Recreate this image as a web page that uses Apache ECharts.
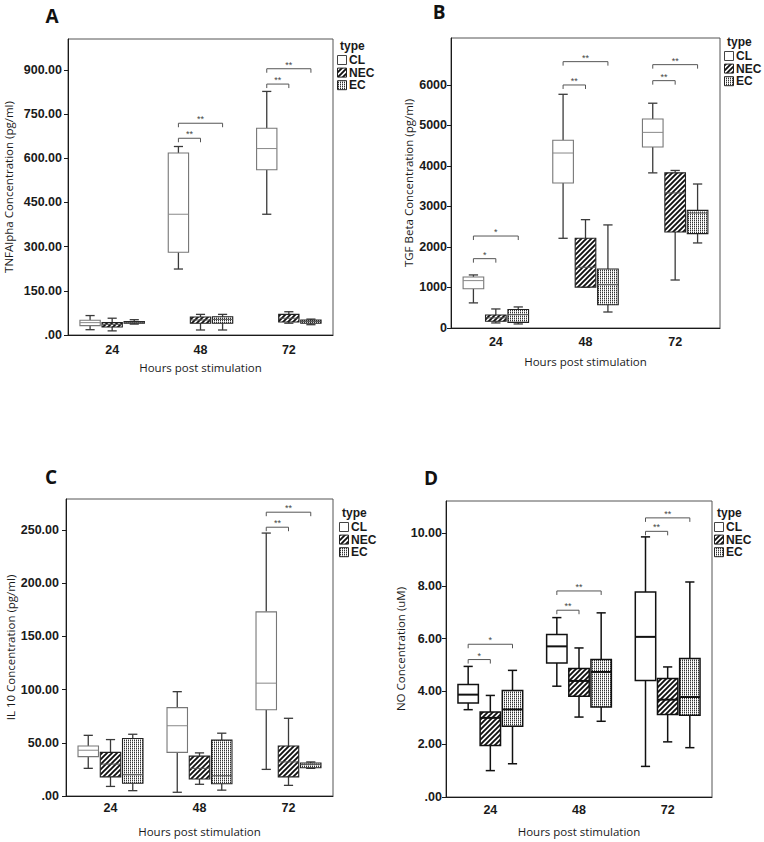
<!DOCTYPE html>
<html>
<head>
<meta charset="UTF-8">
<title>Cytokine boxplots</title>
<script src="https://cdn.jsdelivr.net/npm/echarts@6.0.0/dist/echarts.min.js"></script>
<style>
  html, body { margin: 0; padding: 0; background: #fff; }
  #main { width: 764px; height: 842px; }
</style>
</head>
<body>
<div id="main"></div>
<script>
  // categories
  const hours = ['24', '48', '72'];
  const groups = ['CL', 'NEC', 'EC'];

  // box values per hour: [min, Q1, median, Q3, max]
  const tnfCL  = [[18, 32, 42, 50, 66], [224, 281, 410, 618, 640], [410, 561, 633, 702, 827]];
  const tnfNEC = [[14, 27, 36, 42, 57], [17, 40, 51, 61, 70], [40, 44, 57, 70, 79]];
  const tnfEC  = [[37, 40, 43, 46, 52], [17, 40, 53, 62, 70], [35, 40, 46, 51, 54]];

  const tgfCL  = [[620, 970, 1170, 1260, 1310], [2215, 3580, 4320, 4635, 5770], [3830, 4470, 4830, 5160, 5550]];
  const tgfNEC = [[125, 165, 250, 320, 470], [1010, 1010, 1500, 2215, 2675], [1185, 2370, 3335, 3830, 3890]];
  const tgfEC  = [[100, 140, 330, 455, 520], [395, 575, 1070, 1455, 2545], [2100, 2330, 2840, 2905, 3555]];

  const il10CL  = [[26, 37, 43, 47, 57], [3.5, 41, 66, 83, 98], [25, 81, 106, 173, 247]];
  const il10NEC = [[9, 18, 30, 41, 53], [11, 16, 26, 37.5, 40.5], [10, 18, 32, 47, 73]];
  const il10EC  = [[5, 12, 20, 54, 58], [5.5, 11.5, 19, 52.5, 59], [26, 26.5, 29.5, 31, 32]];

  const noCL  = [[3.31, 3.56, 3.88, 4.26, 4.95], [4.2, 5.08, 5.71, 6.16, 6.8], [1.16, 4.42, 6.07, 7.77, 9.86]];
  const noNEC = [[1.0, 1.95, 3.0, 3.22, 3.85], [3.03, 3.82, 4.4, 4.87, 5.65], [2.09, 3.13, 3.69, 4.49, 4.93]];
  const noEC  = [[1.26, 2.68, 3.32, 4.04, 4.8], [2.87, 3.41, 4.74, 5.21, 6.98], [1.87, 3.1, 3.79, 5.25, 8.15]];

  // significance brackets: [hour index, compared group index, y value, label]
  const tnfSig  = [[1, 1, 668, '**'], [1, 2, 719, '**'], [2, 1, 852, '**'], [2, 2, 904, '**']];
  const tgfSig  = [[0, 1, 1712, '*'], [0, 2, 2271, '*'], [1, 1, 6000, '**'], [1, 2, 6576, '**'], [2, 1, 6107, '**'], [2, 2, 6502, '**']];
  const il10Sig = [[2, 1, 252.5, '**'], [2, 2, 266.6, '**']];
  const noSig   = [[0, 1, 5.21, '*'], [0, 2, 5.79, '*'], [1, 1, 7.08, '**'], [1, 2, 7.81, '**'], [2, 1, 10.07, '**'], [2, 2, 10.58, '**']];

  // tick labels
  const tnfTicks  = [0, 150, 300, 450, 600, 750, 900];
  const tgfTicks  = [0, 1000, 2000, 3000, 4000, 5000, 6000];
  const il10Ticks = [0, 50, 100, 150, 200, 250];
  const noTicks   = [0, 2, 4, 6, 8, 10];

  const OFFSETS = [-0.25, 0, 0.25]   // box centre, fraction of band
  const BOX_W = 0.23
  const CAP_W = 0.45

  // 斜线填充
  function hatchFill() {
    const s = 5
    const c = document.createElement('canvas')
    c.width = s; c.height = s
    const ctx = c.getContext('2d')
    ctx.fillStyle = '#fff'
    ctx.fillRect(0, 0, s, s)
    ctx.strokeStyle = '#111'
    ctx.lineWidth = 1.9
    ctx.beginPath()
    ctx.moveTo(-1, s + 1); ctx.lineTo(s + 1, -1)
    ctx.moveTo(-1, 1); ctx.lineTo(1, -1)
    ctx.moveTo(s - 1, s + 1); ctx.lineTo(s + 1, s - 1)
    ctx.stroke()
    return { image: c.toDataURL(), imageWidth: s, imageHeight: s, repeat: 'repeat' }
  }

  // 点状填充
  function dotFill() {
    const c = document.createElement('canvas')
    c.width = 2; c.height = 2
    const ctx = c.getContext('2d')
    ctx.fillStyle = '#fff'
    ctx.fillRect(0, 0, 2, 2)
    ctx.fillStyle = '#333'
    ctx.fillRect(0, 0, 1, 1)
    ctx.fillStyle = '#aaa'
    ctx.fillRect(0, 1, 1, 1)
    return { image: c.toDataURL(), imageWidth: 2, imageHeight: 2, repeat: 'repeat' }
  }

  const fills = ['#fff', hatchFill(), dotFill()]

  const fmt2 = v => v === 0 ? '.00' : v.toFixed(2)

  const panels = [
    { tag: 'A', name: 'TNFAlpha Concentration (pg/ml)', data: [tnfCL, tnfNEC, tnfEC], sig: tnfSig,
      ticks: tnfTicks, max: 1005, fmt: fmt2,
      grid: { left: 68, top: 39, width: 265, height: 296 }, nameGap: 54, xNameGap: 26, yMargin: 6, xMargin: 8,
      title: [52, 16], legend: [340, 46], dark: false },
    { tag: 'B', name: 'TGF Beta Concentration (pg/ml)', data: [tgfCL, tgfNEC, tgfEC], sig: tgfSig,
      ticks: tgfTicks, max: 7160, fmt: v => String(v),
      grid: { left: 451, top: 38, width: 269, height: 290 }, nameGap: 37, xNameGap: 27, yMargin: 4, xMargin: 7,
      title: [439, 12], legend: [727, 42], dark: false },
    { tag: 'C', name: 'IL 10 Concentration (pg/ml)', data: [il10CL, il10NEC, il10EC], sig: il10Sig,
      ticks: il10Ticks, max: 279, fmt: fmt2,
      grid: { left: 66, top: 499, width: 267, height: 297 }, nameGap: 48, xNameGap: 29, yMargin: 7, xMargin: 5,
      title: [51, 477], legend: [342, 513], dark: false },
    { tag: 'D', name: 'NO Concentration (uM)', data: [noCL, noNEC, noEC], sig: noSig,
      ticks: noTicks, max: 11.22, fmt: fmt2,
      grid: { left: 446, top: 501, width: 266, height: 296 }, nameGap: 37, xNameGap: 28, yMargin: 4, xMargin: 6,
      title: [431, 478], legend: [717, 513], dark: true }
  ]

  const tickFont = { fontFamily: 'Liberation Sans', fontWeight: 'bold', fontSize: 12.5, color: '#1a1a1a' }
  const nameFont = { fontFamily: 'Open Sans', fontSize: 11.5, color: '#1a1a1a' }

  function boxRenderer(p, g) {
    return function (params, api) {
      const h = api.value(0)
      const band = api.size([1, 0])[0]
      const cx = api.coord([h, 0])[0] + band * OFFSETS[g]
      const w = band * BOX_W
      const cap = w * CAP_W
      const yv = i => api.coord([h, api.value(i)])[1]
      const yMin = yv(1), yQ1 = yv(2), yMed = yv(3), yQ3 = yv(4), yMax = yv(5)
      const wl = p.dark ? { stroke: '#111', lineWidth: 1.5 } : { stroke: '#3a3a3a', lineWidth: 1.3 }
      const boxStroke = p.dark ? '#111' : (g === 0 ? '#777' : '#222')
      const medStyle = p.dark ? { stroke: '#111', lineWidth: 2 } : { stroke: g === 0 ? '#888' : '#555', lineWidth: 1 }
      return {
        type: 'group',
        children: [
          { type: 'line', shape: { x1: cx, y1: yMax, x2: cx, y2: yQ3 }, style: wl },
          { type: 'line', shape: { x1: cx, y1: yQ1, x2: cx, y2: yMin }, style: wl },
          { type: 'line', shape: { x1: cx - cap / 2, y1: yMax, x2: cx + cap / 2, y2: yMax }, style: wl },
          { type: 'line', shape: { x1: cx - cap / 2, y1: yMin, x2: cx + cap / 2, y2: yMin }, style: wl },
          { type: 'rect', shape: { x: cx - w / 2, y: yQ3, width: w, height: yQ1 - yQ3 },
            style: { fill: fills[g], stroke: boxStroke, lineWidth: p.dark ? 1.5 : 1.1 } },
          { type: 'line', shape: { x1: cx - w / 2, y1: yMed, x2: cx + w / 2, y2: yMed }, style: medStyle }
        ]
      }
    }
  }

  function sigRenderer(p) {
    return function (params, api) {
      const h = api.value(0)
      const to = api.value(1)
      const band = api.size([1, 0])[0]
      const c = api.coord([h, api.value(2)])
      const x1 = c[0] + band * OFFSETS[0]
      const x2 = c[0] + band * OFFSETS[to]
      const y = c[1]
      return {
        type: 'group',
        children: [
          { type: 'polyline', shape: { points: [[x1, y + 4], [x1, y], [x2, y], [x2, y + 4]] },
            style: { stroke: '#555', fill: null, lineWidth: 1 } },
          { type: 'text', x: (x1 + x2) / 2, y: y - 4,
            style: { text: p.sig[params.dataIndex][3], fill: '#444', font: '9px "Liberation Sans"',
              textAlign: 'center', textVerticalAlign: 'middle' } }
        ]
      }
    }
  }

  const grid = [], xAxis = [], yAxis = [], series = [], graphic = []

  panels.forEach((p, i) => {
    grid.push(Object.assign({ show: true, borderColor: '#555', borderWidth: 1, containLabel: false }, p.grid))
    xAxis.push({
      type: 'category', gridIndex: i, data: hours,
      name: 'Hours post stimulation', nameLocation: 'middle', nameGap: p.xNameGap, nameTextStyle: nameFont,
      axisLine: { lineStyle: { color: '#1a1a1a', width: 1 } },
      axisTick: { alignWithLabel: true, length: 4, lineStyle: { color: '#1a1a1a' } },
      axisLabel: Object.assign({ margin: p.xMargin }, tickFont),
      splitLine: { show: false }
    })
    yAxis.push({
      type: 'value', gridIndex: i, min: 0, max: p.max, interval: p.ticks[1],
      name: p.name, nameLocation: 'middle', nameGap: p.nameGap, nameTextStyle: nameFont,
      axisLine: { show: true, lineStyle: { color: '#1a1a1a', width: 1 } },
      axisTick: { show: true, length: 4, customValues: p.ticks, lineStyle: { color: '#1a1a1a' } },
      axisLabel: Object.assign({ margin: p.yMargin, customValues: p.ticks, formatter: p.fmt }, tickFont),
      splitLine: { show: false }
    })
    groups.forEach((gName, g) => {
      series.push({
        type: 'custom', name: gName, xAxisIndex: i, yAxisIndex: i,
        renderItem: boxRenderer(p, g),
        encode: { x: 0, y: [1, 2, 3, 4, 5] },
        data: p.data[g].map((b, h) => [h].concat(b)),
        silent: true
      })
    })
    series.push({
      type: 'custom', name: 'sig' + p.tag, xAxisIndex: i, yAxisIndex: i,
      renderItem: sigRenderer(p),
      encode: { x: 0, y: 2 },
      data: p.sig.map(s => [s[0], s[1], s[2]]),
      silent: true, z: 3
    })

    // panel letter
    graphic.push({
      type: 'text', x: p.title[0], y: p.title[1],
      style: { text: p.tag, font: 'bold 19px "Open Sans"', fill: '#111', textAlign: 'center', textVerticalAlign: 'middle' }
    })
    // legend
    const lx = p.legend[0], ly = p.legend[1]
    graphic.push({
      type: 'text', x: lx, y: ly,
      style: { text: 'type', font: 'bold 12px "Liberation Sans"', fill: '#1a1a1a', textVerticalAlign: 'middle' }
    })
    groups.forEach((gName, g) => {
      const yy = ly + 14 + g * 12.6
      graphic.push({
        type: 'rect', shape: { x: lx - 2.5, y: yy - 4.5, width: 9, height: 9 },
        style: { fill: fills[g], stroke: g === 0 ? '#444' : '#222', lineWidth: 1 }
      })
      graphic.push({
        type: 'text', x: lx + 9, y: yy,
        style: { text: gName, font: 'bold 12px "Liberation Sans"', fill: '#1a1a1a', textVerticalAlign: 'middle' }
      })
    })
  })

  const myChart = echarts.init(document.getElementById('main'), null, { renderer: 'svg' })
  myChart.setOption({
    animation: false,
    grid, xAxis, yAxis, series, graphic
  })
</script>
</body>
</html>
